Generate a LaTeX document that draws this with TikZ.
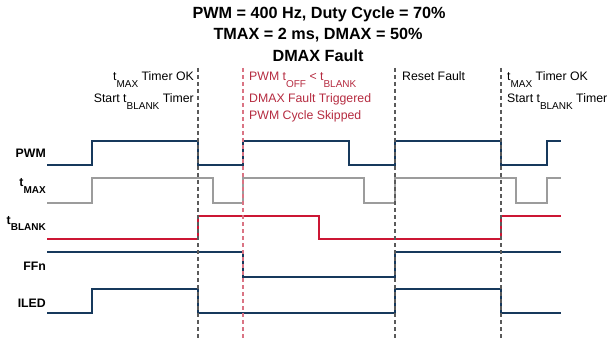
\documentclass[tikz,border=0pt]{standalone}
\usepackage{fontspec}
\setmainfont{Liberation Sans}
\definecolor{sigblue}{HTML}{17395C}
\definecolor{siggray}{HTML}{9C9C9C}
\definecolor{sigred}{HTML}{CC1634}
\definecolor{notered}{HTML}{B52B40}
\definecolor{markgray}{HTML}{5A5A5A}
\definecolor{markred}{HTML}{DA7484}
\newcommand{\lowtext}[1]{\raisebox{-0.52em}{\fontsize{10}{10}\selectfont #1}}

\begin{document}
\begin{tikzpicture}[x=1pt,y=-1pt,
	signal/.style={line width=2pt, line join=miter},
	marker/.style={line width=1.2pt, dash pattern=on 4pt off 3pt},
	title/.style={font=\bfseries\fontsize{16.2}{18}\selectfont, anchor=base, inner sep=0pt},
	note/.style={font=\fontsize{12.3}{14}\selectfont, inner sep=0pt},
	tag/.style={font=\bfseries\fontsize{12.3}{14}\selectfont, anchor=base east, inner sep=0pt}]
	\useasboundingbox (0,0) rectangle (610,339);

	% titles
	\node[title] (head1) at (319,19) {PWM = 400 Hz, Duty Cycle = 70\%};
	\node[title] (head2) at (318,40) {TMAX = 2 ms, DMAX = 50\%};
	\node[title] (head3) at (318,62) {DMAX Fault};

	% event notes
	\node[note, anchor=base east] (ok1) at (194,81) {t\lowtext{MAX} Timer OK};
	\node[note, anchor=base east] (start1) at (194,103) {Start t\lowtext{BLANK} Timer};
	\node[note, anchor=base west, text=notered] (toff) at (249,81) {PWM t\lowtext{OFF} < t\lowtext{BLANK}};
	\node[note, anchor=base west, text=notered] (trig) at (249,103) {DMAX Fault Triggered};
	\node[note, anchor=base west, text=notered] (skip) at (249,120) {PWM Cycle Skipped};
	\node[note, anchor=base west] (reset) at (402,81) {Reset Fault};
	\node[note, anchor=base west] (ok2) at (507,81) {t\lowtext{MAX} Timer OK};
	\node[note, anchor=base west] (start2) at (507,103) {Start t\lowtext{BLANK} Timer};

	% signal names
	\node[tag] (pwm) at (46,158) {PWM};
	\node[tag] (tmax) at (46,187) {t\lowtext{MAX}};
	\node[tag] (tblank) at (46,224) {t\lowtext{BLANK}};
	\node[tag] (ffn) at (46,270) {FFn};
	\node[tag] (iled) at (46,307) {ILED};

	% waveforms
	\draw[signal, sigblue] (47,165) -| (92,141) -| (198,165) -| (243,141) -| (349,165) -| (395,141) -| (501,165) -| (547,141) -- (561,141);
	\draw[signal, siggray] (47,203) -| (92,178) -| (213,203) -| (243,178) -| (364,203) -| (395,178) -| (516,203) -| (547,178) -- (561,178);
	\draw[signal, sigred] (47,239) -| (198,216) -| (319,239) -| (501,216) -- (561,216);
	\draw[signal, sigblue] (47,252) -| (243,277) -| (395,252) -- (561,252);
	\draw[signal, sigblue] (47,313) -| (92,289) -| (198,313) -| (395,289) -| (501,313) -- (561,313);

	% event markers
	\foreach \t in {198,395,501}
		\draw[marker, markgray] (\t,68) -- (\t,339);
	\draw[marker, markred] (243,68) -- (243,339);
\end{tikzpicture}
\end{document}
